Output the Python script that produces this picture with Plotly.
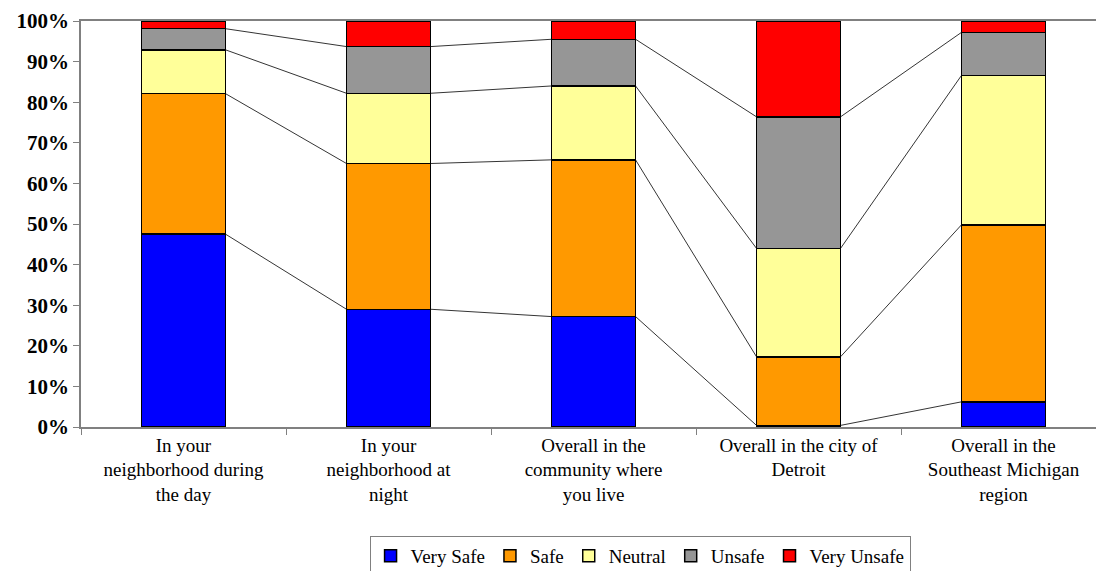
import plotly.graph_objects as go

categories = [
    "In your<br>neighborhood during<br>the day",
    "In your<br>neighborhood at<br>night",
    "Overall in the<br>community where<br>you live",
    "Overall in the city of<br>Detroit",
    "Overall in the<br>Southeast Michigan<br>region",
]
series_names = ["Very Safe", "Safe", "Neutral", "Unsafe", "Very Unsafe"]
very_safe = [47.5, 29.0, 27.2, 0.4, 6.2]
safe = [34.6, 35.9, 38.6, 16.9, 43.6]
neutral = [10.8, 17.3, 18.2, 26.7, 36.8]
unsafe = [5.2, 11.5, 11.5, 32.4, 10.6]
very_unsafe = [1.9, 6.3, 4.5, 23.6, 2.8]
colors = ["#0000FF", "#FF9900", "#FFFF99", "#969696", "#FF0000"]

values = [very_safe, safe, neutral, unsafe, very_unsafe]
bar_width = 0.41
font_family = "Liberation Serif, Times New Roman, serif"

fig = go.Figure()
for name, vals, col in zip(series_names, values, colors):
    fig.add_trace(go.Bar(
        x=categories, y=vals, name=name,
        marker=dict(color=col, line=dict(color="black", width=1.5)),
        width=bar_width,
    ))

# series lines connecting cumulative boundaries
n = len(categories)
cum = [0.0] * n
for k in range(len(values) - 1):
    cum = [c + v for c, v in zip(cum, values[k])]
    xs, ys = [], []
    for i in range(n - 1):
        xs += [i + bar_width / 2, i + 1 - bar_width / 2, None]
        ys += [cum[i], cum[i + 1], None]
    fig.add_trace(go.Scatter(
        x=xs, y=ys, xaxis="x2", mode="lines",
        line=dict(color="black", width=0.8), showlegend=False, hoverinfo="skip",
    ))

xr = [-0.5, 4.451]
fig.update_layout(
    width=1096, height=571,
    margin=dict(l=81, r=0, t=21, b=144, autoexpand=False),
    barmode="stack",
    plot_bgcolor="white", paper_bgcolor="white",
    font=dict(family=font_family, color="black"),
    xaxis=dict(
        type="category", range=xr, tickson="boundaries", automargin=False,
        ticks="outside", ticklen=6, tickcolor="#808080",
        showline=True, linecolor="#808080", linewidth=1.5, mirror=True,
        showgrid=False, tickfont=dict(size=19, family=font_family),
    ),
    xaxis2=dict(range=xr, overlaying="x", visible=False),
    yaxis=dict(
        range=[0, 100], tickvals=[0, 10, 20, 30, 40, 50, 60, 70, 80, 90, 100],
        ticktext=[f"{v}%" for v in range(0, 101, 10)], automargin=False,
        ticks="outside", ticklen=6, tickcolor="#808080",
        showline=True, linecolor="#808080", linewidth=1.5, mirror=True,
        showgrid=False, zeroline=False,
        tickfont=dict(size=21, family=font_family, weight="bold"),
    ),
    legend=dict(
        orientation="h", xref="container", yref="container",
        x=0.584, xanchor="center", y=1 - 536 / 571, yanchor="top",
        bordercolor="#808080", borderwidth=1,
        font=dict(size=19, family=font_family),
        itemwidth=30, traceorder="normal",
    ),
    showlegend=True,
)

fig.write_html(
    "out.html",
    config={"displayModeBar": False},
    post_script="document.body.style.margin='0';document.body.style.overflow='hidden';",
)
